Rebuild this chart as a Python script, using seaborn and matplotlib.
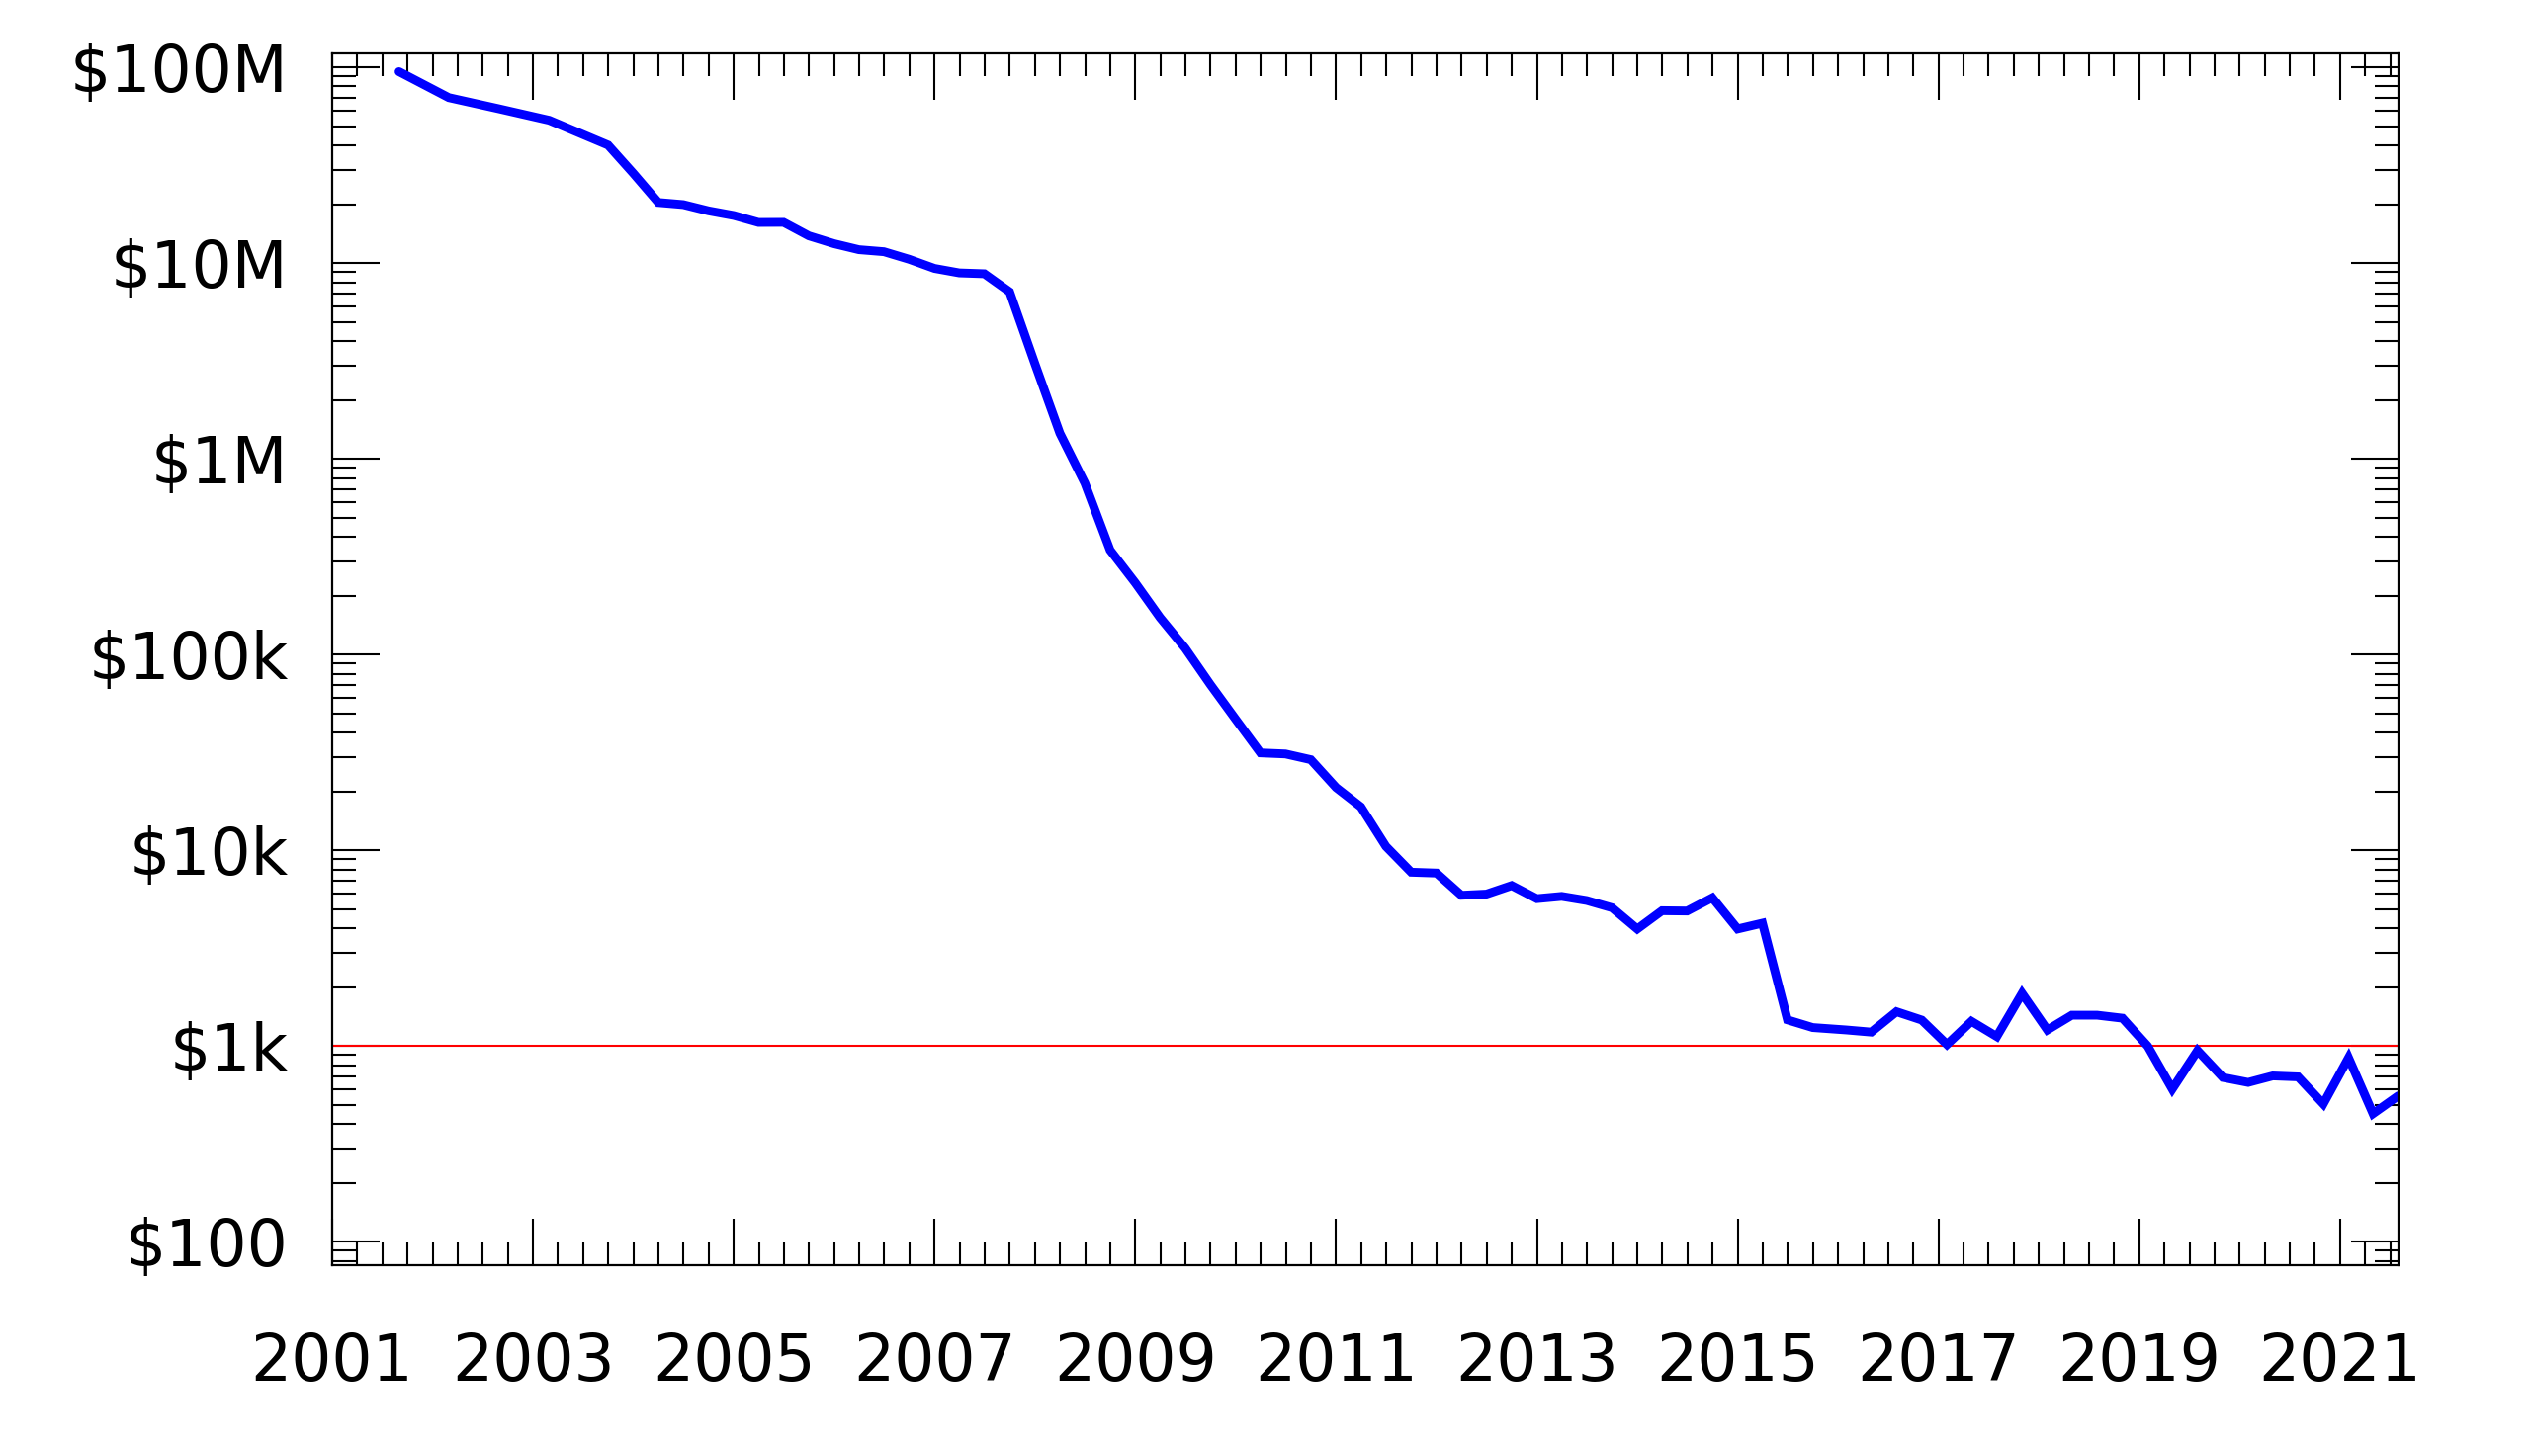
"""
Cost per human genome, 2001-2021 (log scale)
"""
import numpy as np
import pandas as pd
import matplotlib
matplotlib.use('Agg')
import matplotlib.pyplot as plt
from matplotlib.ticker import FixedLocator, MultipleLocator, LogLocator, NullFormatter
import seaborn as sns

# --- data (date of estimate, cost per genome in USD) ---
dates = [
    '2001-09-01', '2002-03-01', '2002-09-01', '2003-03-01', '2003-10-01',
    '2004-01-01', '2004-04-01', '2004-07-01', '2004-10-01',
    '2005-01-01', '2005-04-01', '2005-07-01', '2005-10-01',
    '2006-01-01', '2006-04-01', '2006-07-01', '2006-10-01',
    '2007-01-01', '2007-04-01', '2007-07-01', '2007-10-01',
    '2008-01-01', '2008-04-01', '2008-07-01', '2008-10-01',
    '2009-01-01', '2009-04-01', '2009-07-01', '2009-10-01',
    '2010-01-01', '2010-04-01', '2010-07-01', '2010-10-01',
    '2011-01-01', '2011-04-01', '2011-07-01', '2011-10-01',
    '2012-01-01', '2012-04-01', '2012-07-01', '2012-10-01',
    '2013-01-01', '2013-04-01', '2013-07-01', '2013-10-01',
    '2014-01-01', '2014-04-01', '2014-07-01', '2014-10-01',
    '2015-01-01', '2015-04-01', '2015-07-01', '2015-10-01',
    '2016-02-01', '2016-05-01', '2016-08-01', '2016-11-01',
    '2017-02-01', '2017-05-01', '2017-08-01', '2017-11-01',
    '2018-02-01', '2018-05-01', '2018-08-01', '2018-11-01',
    '2019-02-01', '2019-05-01', '2019-08-01', '2019-11-01',
    '2020-02-01', '2020-05-01', '2020-08-01', '2020-11-01',
    '2021-02-01', '2021-05-01', '2021-08-01',
]
cost = [
    95263072, 70175437, 61448422, 53751684, 40157554,
    28780376, 20442576, 19934346, 18519312,
    17534970, 16159699, 16180224, 13801124,
    12585659, 11732535, 11455315, 10474556,
    9408739, 8927342, 8837185, 7147571,
    3063820, 1352982, 752080, 342502,
    232735, 154714, 108065, 70333,
    46774, 31512, 31125, 29092,
    20963, 16712, 10497, 7743,
    7666, 5901, 5985, 6618,
    5671, 5826, 5550, 5096,
    3970, 4920, 4905, 5731,
    3970, 4250, 1363, 1245,
    1210, 1180, 1500, 1360,
    1020, 1340, 1120, 1860,
    1210, 1440, 1440, 1390,
    1000, 604, 950, 692,
    653, 705, 697, 507,
    873, 452, 558,
]
ytick_vals = [1e2, 1e3, 1e4, 1e5, 1e6, 1e7, 1e8]
ytick_labels = ['$100', '$1k', '$10k', '$100k', '$1M', '$10M', '$100M']
xtick_years = list(range(2001, 2022, 2))
reference_cost = 1000


def decimal_year(ts):
    start = pd.Timestamp(year=ts.year, month=1, day=1)
    end = pd.Timestamp(year=ts.year + 1, month=1, day=1)
    return ts.year + (ts - start) / (end - start)


df = pd.DataFrame({'date': pd.to_datetime(dates), 'cost': cost})
df['year'] = df['date'].apply(decimal_year)

sns.set_style('ticks')
plt.rcParams['font.family'] = ['DejaVu Sans']

fig = plt.figure(figsize=(12.8, 7.365), dpi=200)
ax = fig.add_axes([0.13125, 0.131, 0.8163, 0.8323])

sns.lineplot(data=df, x='year', y='cost', ax=ax, color='#0000ff',
             linewidth=3.2, solid_joinstyle='miter')
ax.axhline(reference_cost, color='red', linewidth=0.75, zorder=1)

ax.set_yscale('log')
ax.set_xlim(2001, 2021.58)
ax.set_ylim(76, 1.18e8)

ax.yaxis.set_major_locator(FixedLocator(ytick_vals))
ax.set_yticklabels(ytick_labels)
ax.yaxis.set_minor_locator(LogLocator(base=10, subs=np.arange(2, 10)))
ax.yaxis.set_minor_formatter(NullFormatter())

ax.set_xticks(xtick_years)
ax.set_xticklabels([str(y) for y in xtick_years])
ax.xaxis.set_minor_locator(MultipleLocator(0.25))

ax.tick_params(which='both', direction='in', top=True, right=True,
               width=0.75, colors='black', labelsize=23.3)
ax.tick_params(axis='y', which='major', length=17.3, pad=16)
ax.tick_params(axis='y', which='minor', length=8.6)
ax.tick_params(axis='x', which='major', length=17, pad=24)
ax.tick_params(axis='x', which='minor', length=8.3)

for sp in ax.spines.values():
    sp.set_linewidth(0.8)
    sp.set_color('black')

ax.set_xlabel('')
ax.set_ylabel('')
ax.grid(False)

fig.savefig('out.png', dpi=200, facecolor='white')
